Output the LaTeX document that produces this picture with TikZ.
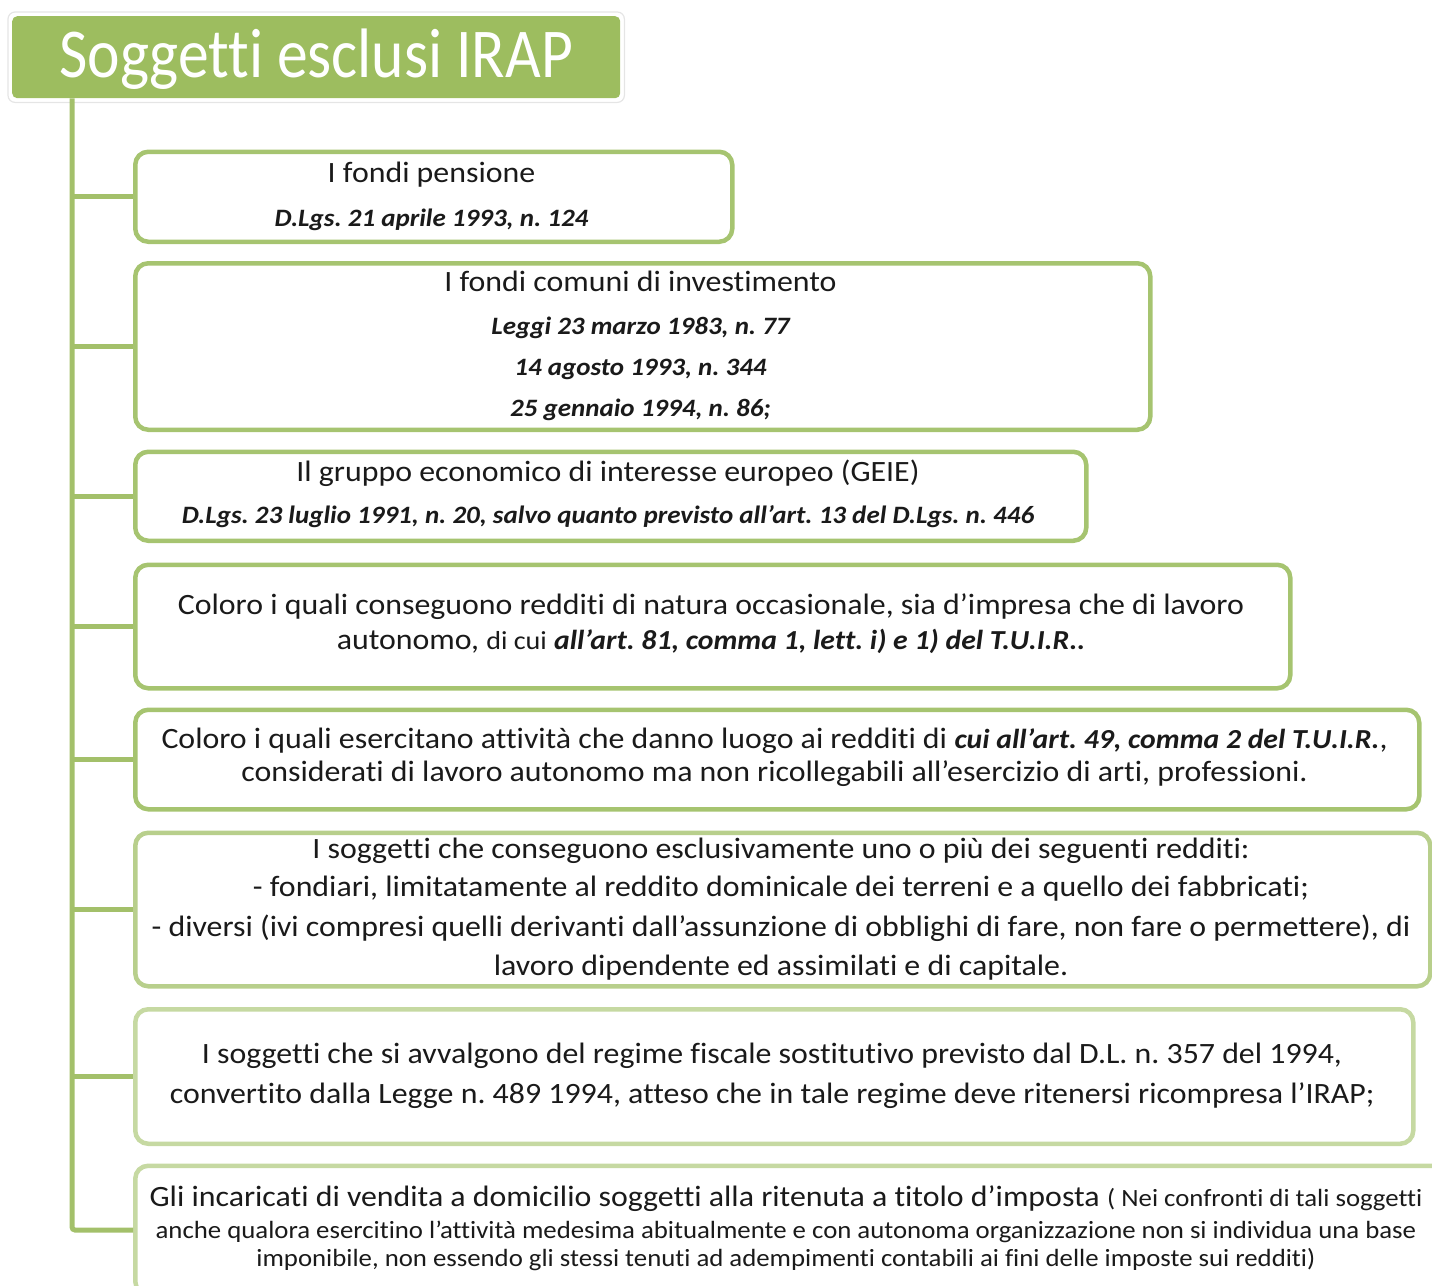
\documentclass[tikz,border=0pt]{standalone}
\usepackage{fontspec}
\setmainfont{Carlito}[FakeStretch=1.08, Ligatures={NoCommon,NoContextual}]
\newfontfamily\titlefont{Carlito}[FakeStretch=0.88, Ligatures={NoCommon,NoContextual}]
\usetikzlibrary{calc}
\definecolor{titlegreen}{RGB}{157,189,95}
\definecolor{spine}{RGB}{163,192,106}
\definecolor{bordA}{RGB}{166,196,112}
\definecolor{bordM}{RGB}{184,207,140}
\definecolor{bordB}{RGB}{198,217,162}
\definecolor{ink}{RGB}{26,26,26}
\frenchspacing
\newcommand{\lawref}[1]{{\fontsize{27.5}{32}\selectfont\bfseries\itshape #1}}
\begin{document}
\begin{tikzpicture}[x=1pt,y=-1pt,
  title/.style={anchor=north west, fill=titlegreen, rounded corners=5pt, inner sep=0pt,
    minimum width=608pt, minimum height=82pt, text=white,
    font=\titlefont\fontsize{70}{76}\selectfont, text height=45pt, text depth=4.4pt},
  halo/.style={draw=black!10, line width=1.2pt, rounded corners=7pt},
  box/.style={anchor=north west, draw=bordA, line width=4.5pt, rounded corners=13pt,
    fill=white, inner sep=0pt},
  link/.style={draw=spine, line width=5pt},
  txt/.style={anchor=base, inner sep=0pt, text=ink, font=\fontsize{29.5}{34}\selectfont},
  ref/.style={txt, font=\fontsize{25}{29}\selectfont\bfseries\itshape},
  small/.style={txt, font=\fontsize{24.8}{28}\selectfont},
]
\clip (0,0) rectangle (1432,1285);

% title
\node[title] (t) at (12,16) {Soggetti esclusi IRAP};
\draw[halo] ([shift={(-4pt,4pt)}]t.north west) rectangle ([shift={(4pt,-4pt)}]t.south east);

% boxes
\node[box, minimum width=597pt,  minimum height=90pt]    (b1) at (133,149.5) {};
\node[box, minimum width=1015pt, minimum height=166.5pt] (b2) at (133,261) {};
\node[box, minimum width=951pt,  minimum height=89pt]    (b3) at (133,449.5) {};
\node[box, minimum width=1155pt, minimum height=123.5pt] (b4) at (133,562.5) {};
\node[box, minimum width=1284pt, minimum height=99.5pt]  (b5) at (133,707.5) {};
\node[box, draw=bordM, minimum width=1295pt, minimum height=153.5pt] (b6) at (133,830.5) {};
\node[box, draw=bordB, minimum width=1278pt, minimum height=134.5pt] (b7) at (133,1007) {};
\node[box, draw=bordB, minimum width=1312pt, minimum height=128.5pt] (b8) at (133,1163.5) {};

% spine and branches
\coordinate (root) at ([xshift=60pt]t.south west);
\draw[link, rounded corners=3pt] (root) |- (b8.west);
\foreach \b in {b1,b2,b3,b4,b5,b6,b7}
  \draw[link] (root |- \b.west) -- (\b.west);

% box 1
\node[txt] (b1l1) at (431.5,182.7) {I fondi pensione};
\node[ref] (b1l2) at (431.5,226) {D.Lgs. 21 aprile 1993, n. 124};

% box 2
\node[txt] (b2l1) at (640.5,291.7) {I fondi comuni di investimento};
\node[ref] (b2l2) at (640.5,334) {Leggi 23 marzo 1983, n. 77};
\node[ref] (b2l3) at (640.5,375) {14 agosto 1993, n. 344};
\node[ref] (b2l4) at (640.5,416) {25 gennaio 1994, n. 86;};

% box 3
\node[txt] (b3l1) at (608,481.7) {Il gruppo economico di interesse europeo (GEIE)};
\node[ref] (b3l2) at (608,523.3) {D.Lgs. 23 luglio 1991, n. 20, salvo quanto previsto all’art. 13 del D.Lgs. n. 446};

% box 4
\node[txt] (b4l1) at (711,614) {Coloro i quali conseguono redditi di natura occasionale, sia d’impresa che di lavoro};
\node[txt] (b4l2) at (711,649.3) {autonomo, {\fontsize{26}{30}\selectfont di cui} \lawref{all’art. 81, comma 1, lett. i) e 1) del T.U.I.R..}};

% box 5
\node[txt] (b5l1) at (774.5,748.3) {Coloro i quali esercitano attività che danno luogo ai redditi di \lawref{cui all’art. 49, comma 2 del T.U.I.R.},};
\node[txt] (b5l2) at (774.5,781.7) {considerati di lavoro autonomo ma non ricollegabili all’esercizio di arti, professioni.};

% box 6
\node[txt] (b6l1) at (781,858.3) {I soggetti che conseguono esclusivamente uno o più dei seguenti redditi:};
\node[txt] (b6l2) at (781,896.7) {- fondiari, limitatamente al reddito dominicale dei terreni e a quello dei fabbricati;};
\node[txt] (b6l3) at (781,936.7) {- diversi (ivi compresi quelli derivanti dall’assunzione di obblighi di fare, non fare o permettere), di};
\node[txt] (b6l4) at (781,975) {lavoro dipendente ed assimilati e di capitale.};

% box 7
\node[txt] (b7l1) at (772,1063.3) {I soggetti che si avvalgono del regime fiscale sostitutivo previsto dal D.L. n. 357 del 1994,};
\node[txt] (b7l2) at (772,1103.3) {convertito dalla Legge n. 489 1994, atteso che in tale regime deve ritenersi ricompresa l’IRAP;};

% box 8
\node[txt] (b8l1) at (786,1206.7) {Gli incaricati di vendita a domicilio soggetti alla ritenuta a titolo d’imposta {\fontsize{24.8}{28}\selectfont( Nei confronti di tali soggetti}};
\node[small] (b8l2) at (786,1238.3) {anche qualora esercitino l’attività medesima abitualmente e con autonoma organizzazione non si individua una base};
\node[small] (b8l3) at (786,1266.7) {imponibile, non essendo gli stessi tenuti ad adempimenti contabili ai fini delle imposte sui redditi)};
\end{tikzpicture}
\end{document}
